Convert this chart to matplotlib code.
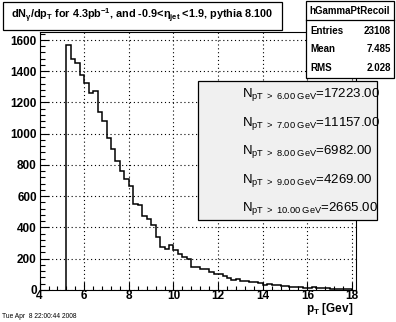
import numpy as np
import matplotlib.pyplot as plt
from matplotlib.patches import Rectangle
from matplotlib.ticker import MultipleLocator

plt.rcParams['font.family'] = ['Liberation Sans', 'DejaVu Sans']
plt.rcParams['mathtext.fontset'] = 'custom'
plt.rcParams['mathtext.rm'] = 'Liberation Sans'
plt.rcParams['mathtext.it'] = 'Liberation Sans:italic'
plt.rcParams['mathtext.bf'] = 'Liberation Sans:bold'

# histogram content, bins of 0.2 GeV starting at 5.2 GeV
bin_start = 5.2
bin_width = 0.2
counts = [
    1568, 1478, 1450, 1379,
    1327, 1263, 1271, 1140, 1082,
    973, 902, 825, 760, 711,
    664, 552, 546, 470, 455,
    412, 341, 275, 262, 290,
    255, 232, 213, 199, 147,
    147, 136, 136, 115, 100,
    104, 90, 76, 65, 68,
    58, 54, 50, 47, 42,
    32, 34, 28, 30, 22,
    24, 20, 17, 19, 14,
    12, 15, 10, 9, 11,
    7, 8, 5, 6, 4,
]

hist_name = "hGammaPtRecoil"
stats_labels = ["Entries", "Mean", "RMS"]
stats_values = ["23108", "7.485", "2.028"]

cut_labels = ["6.00", "7.00", "8.00", "9.00", "10.00"]
cut_counts = ["17223.00", "11157.00", "6982.00", "4269.00", "2665.00"]

W, H = 396, 322
fig = plt.figure(figsize=(W / 100, H / 100), dpi=100)
ax = fig.add_axes([0.1, 0.1, 0.8, 0.8])

edges = bin_start + bin_width * np.arange(len(counts) + 1)
ax.stairs(counts, edges, color='black', lw=1.1, baseline=0)

ax.set_xlim(4, 18.2)
ax.set_ylim(0, 1650)
ax.xaxis.set_major_locator(MultipleLocator(2))
ax.xaxis.set_minor_locator(MultipleLocator(0.4))
ax.yaxis.set_major_locator(MultipleLocator(200))
ax.yaxis.set_minor_locator(MultipleLocator(40))
ax.tick_params(axis='both', which='both', direction='in', colors='black',
               labelsize=8.5, width=0.8)
ax.tick_params(axis='y', which='major', length=6.8, pad=2)
ax.tick_params(axis='y', which='minor', length=3.4)
ax.tick_params(axis='x', which='major', length=5.6, pad=0.5)
ax.tick_params(axis='x', which='minor', length=2.8)
for lab in ax.get_xticklabels() + ax.get_yticklabels():
    lab.set_fontweight('bold')
ax.grid(True, which='major', linestyle=(0, (1, 2.5)), color='black', lw=0.8)
for s in ax.spines.values():
    s.set_linewidth(0.8)


def fx(px):
    return px / W


def fy(py):
    return 1 - py / H


def box(x0, y0, x1, y1, fc='white'):
    fig.patches.append(Rectangle((fx(x0), fy(y1)), fx(x1) - fx(x0), fy(y0) - fy(y1),
                                 transform=fig.transFigure, facecolor=fc,
                                 edgecolor='black', lw=0.9, zorder=5))


# title box
box(3, 2, 282, 30)
fig.text(fx(142), fy(16),
         r"dN$_\mathbf{\gamma}$/dp$_\mathbf{T}$ for 4.3pb$^\mathbf{-1}$, and -0.9<$\mathbf{\eta_{jet}}$ <1.9, pythia 8.100",
         ha='center', va='center', fontsize=7.8, fontweight='bold', zorder=6)

# stats box
box(306, 1, 394, 78)
fig.add_artist(plt.Line2D([fx(306), fx(394)], [fy(20), fy(20)], color='black',
                          lw=0.9, transform=fig.transFigure, zorder=6))
fig.text(fx(350), fy(10.5), hist_name, ha='center', va='center', fontsize=7,
         fontweight='bold', zorder=6)
for i, (lab, val) in enumerate(zip(stats_labels, stats_values)):
    y = fy(31 + 18.5 * i)
    fig.text(fx(310), y, lab, ha='left', va='center', fontsize=7, fontweight='bold', zorder=6)
    fig.text(fx(391), y, val, ha='right', va='center', fontsize=7, fontweight='bold', zorder=6)

# cut counts box
box(198, 81, 377, 220, fc='#f0f0f0')
for i, (c, n) in enumerate(zip(cut_labels, cut_counts)):
    fig.text(fx(242), fy(97 + 28.5 * i),
             r"N$_{\mathrm{pT\ >\ " + c + r"\ GeV}}$=" + n,
             ha='left', va='baseline', fontsize=9.5, zorder=6)

# axis label and date
fig.text(fx(353), fy(309), r"p$_\mathbf{T}$ [Gev]", ha='right', va='center',
         fontsize=8.5, fontweight='bold')
fig.text(fx(2), fy(317), "Tue Apr  8 22:00:44 2008", ha='left', va='center',
         fontsize=4.8)

fig.savefig('out.png', dpi=100)
